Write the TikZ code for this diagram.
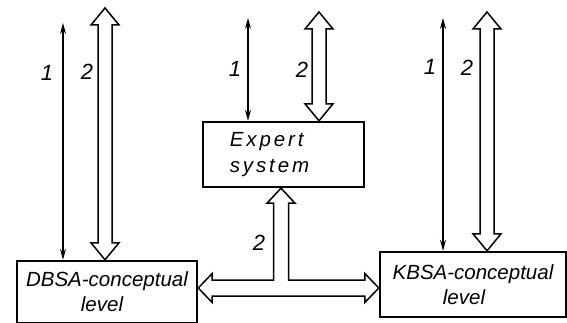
\documentclass[tikz,border=0pt]{standalone}
\usepackage{fontspec}
\setmainfont{Liberation Sans}
\newfontfamily\spacedfont[LetterSpace=14]{Liberation Sans}
\usetikzlibrary{arrows.meta}
\usetikzlibrary{calc,positioning}

\newcommand{\headw}{14}
\newcommand{\headl}{17}
\newcommand{\shaftw}{7}
% hollow double arrow, #1 upper end, #2 lower end
\newcommand{\fatarrow}[2]{%
  \draw[hollow] (#1) -- ++(-\headw,-\headl) -- ++(\headw-\shaftw,0) -- ($(#2)+(-\shaftw,\headl)$) -- ++(\shaftw-\headw,0) -- (#2)
    -- ++(\headw,\headl) -- ++(\shaftw-\headw,0) -- ($(#1)+(\shaftw,-\headl)$) -- ++(\headw-\shaftw,0) -- cycle;}

\begin{document}
\begin{tikzpicture}[x=1pt,y=1pt,>={Stealth[length=11pt,width=6pt]},
    box/.style={draw,line width=2.4pt,align=center,inner sep=0pt,font=\itshape\fontsize{20.5}{25}\selectfont},
    num/.style={font=\itshape\fontsize{22}{22}\selectfont},
    link/.style={<->,line width=1.1pt},
    hollow/.style={line width=1.5pt,line join=miter,fill=white}]
\useasboundingbox (0,0) rectangle (567,322);

\node[box,minimum width=180pt,minimum height=62pt] (dbsa) at (107,30) {DBSA-conceptual\\level\hspace*{10pt}};
\node[box,minimum width=186pt,minimum height=65pt] (kbsa) at (473,37.5) {KBSA-conceptual\\level\hspace*{18pt}};
\node[box,minimum width=161pt,minimum height=65pt,align=left,
      font=\spacedfont\itshape\fontsize{20.5}{26}\selectfont] (expert) at (283.5,167.5) {Expert\\system\hspace*{28pt}};

% line 1
\coordinate (d1) at (63,299);
\coordinate (e1) at (248,304);
\coordinate (k1) at (443,304);
\draw[link] (d1) -- node[num,pos=0.21,xshift=-16pt] (nd1) {1} (d1 |- dbsa.north);
\draw[link] (e1) -- node[num,pos=0.5,xshift=-13pt] (ne1) {1} (e1 |- expert.north);
\draw[link] (k1) -- node[num,pos=0.21,xshift=-13pt] (nk1) {1} (k1 |- kbsa.north);

% line 2
\coordinate (d2) at (105,314);
\coordinate (e2) at (319,310);
\coordinate (k2) at (487,310);
\coordinate (d2b) at (d2 |- dbsa.north);
\coordinate (e2b) at (e2 |- expert.north);
\coordinate (k2b) at (k2 |- kbsa.north);
\fatarrow{d2}{d2b}
\fatarrow{e2}{e2b}
\fatarrow{k2}{k2b}
\node[num] (nd2) at (87,250) {2};
\node[num] (ne2) at (302,252) {2};
\node[num] (nk2) at (467,254) {2};

% T connector
\coordinate (tl) at (dbsa.east |- 0,34);
\coordinate (tr) at (kbsa.west |- 0,34);
\coordinate (tt) at ($(expert.south)+(-2.5,0)$);
\draw[hollow] (tl) -- ++(14,14.5) -- ++(0,-6.5)
  -- ($(tt |- tl)+(-7.5,8)$) -- ($(tt)+(-7.5,-15)$) -- ++(-6.5,0) -- (tt) -- ++(14,-15) -- ++(-6.5,0)
  -- ($(tt |- tl)+(7.5,8)$) -- ($(tr)+(-14,8)$) -- ++(0,6.5) -- (tr) -- ++(-14,-14.5) -- ++(0,6.5)
  -- ($(tl)+(14,-8)$) -- ++(0,-6.5) -- cycle;
\node[num] (nt2) at (259,79) {2};
\end{tikzpicture}
\end{document}
